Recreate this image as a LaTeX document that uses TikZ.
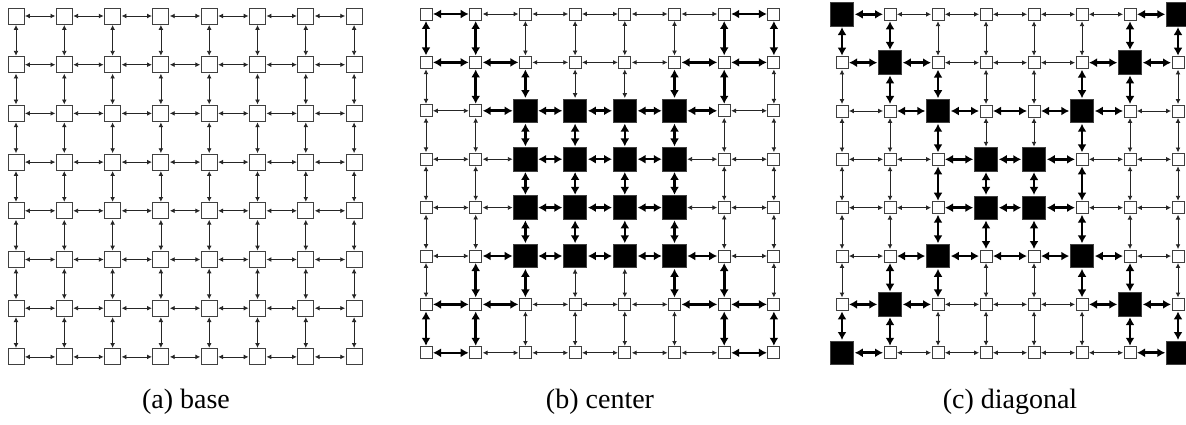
\documentclass[tikz,border=0pt]{standalone}
\usepackage{fontspec}
\setmainfont{Liberation Serif}
\usetikzlibrary{arrows.meta}
\tikzset{
  cell/.style={draw=black!75, line width=0.9pt, fill=white, minimum size=#1, inner sep=0pt, outer sep=1pt},
  bigcell/.style={draw=black!75, line width=0.9pt, fill=black, minimum size=23.5pt, inner sep=0pt, outer sep=1pt},
  thinlink/.style={line width=0.8pt, draw=black!85, {Latex[length=4.8pt,width=4.8pt]}-{Latex[length=4.8pt,width=4.8pt]}},
  thicklink/.style={line width=2.6pt, draw=black, {Latex[length=8pt,width=9pt]}-{Latex[length=8pt,width=9pt]}},
  caption/.style={font=\fontsize{28}{33}\selectfont, anchor=base, inner sep=0pt}
}
% membership of node (r,c) in the highlighted set of grid (b)
\newcommand\bmember[3]{%
  \pgfmathtruncatemacro\tmpmr{min(#1,9-#1)}%
  \pgfmathtruncatemacro\tmpmc{min(#2,9-#2)}%
  \pgfmathtruncatemacro#3{((\tmpmr>2)&&(\tmpmc>2))||((\tmpmr<3)&&(\tmpmc<3))||((\tmpmr+\tmpmc==5)&&(\tmpmr>1)&&(\tmpmc>1))}%
}
% big node test for grid (c)
\newcommand\cbig[3]{%
  \pgfmathtruncatemacro#3{(#1==#2)||(#1+#2==9)}%
}
\begin{document}
\begin{tikzpicture}[x=1pt,y=-1pt]
\useasboundingbox (0,0) rectangle (1186,425);
% ---------- grid (a)
\foreach \r in {1,...,8} {
  \foreach \c in {1,...,8} {
    \node[cell=16pt] (a-\r-\c) at ({16+(\c-1)*48.3},{16+(\r-1)*48.7}) {};
  }
}
\foreach \r in {1,...,8} {
  \foreach \c in {1,...,7} {
    \pgfmathtruncatemacro\cn{\c+1}
    \draw[thinlink] (a-\r-\c) -- (a-\r-\cn);
    \draw[thinlink] (a-\c-\r) -- (a-\cn-\r);
  }
}
% ---------- grid (b)
\foreach \r in {1,...,8} {
  \foreach \c in {1,...,8} {
    \pgfmathtruncatemacro\mr{min(\r,9-\r)}
    \pgfmathtruncatemacro\mc{min(\c,9-\c)}
    \pgfmathtruncatemacro\isbig{(\mr>2)&&(\mc>2)}
    \ifnum\isbig=1
      \node[bigcell] (b-\r-\c) at ({426+(\c-1)*49.7},{14+(\r-1)*48.4}) {};
    \else
      \node[cell=12pt] (b-\r-\c) at ({426+(\c-1)*49.7},{14+(\r-1)*48.4}) {};
    \fi
  }
}
\foreach \r in {1,...,8} {
  \foreach \c in {1,...,7} {
    \pgfmathtruncatemacro\cn{\c+1}
    \bmember{\r}{\c}{\sa}\bmember{\r}{\cn}{\sb}
    \ifnum\numexpr\sa*\sb\relax=1
      \draw[thicklink] (b-\r-\c) -- (b-\r-\cn);
    \else
      \draw[thinlink] (b-\r-\c) -- (b-\r-\cn);
    \fi
    \bmember{\c}{\r}{\sa}\bmember{\cn}{\r}{\sb}
    \ifnum\numexpr\sa*\sb\relax=1
      \draw[thicklink] (b-\c-\r) -- (b-\cn-\r);
    \else
      \draw[thinlink] (b-\c-\r) -- (b-\cn-\r);
    \fi
  }
}
% ---------- grid (c)
\foreach \r in {1,...,8} {
  \foreach \c in {1,...,8} {
    \cbig{\r}{\c}{\isbig}
    \ifnum\isbig=1
      \node[bigcell] (c-\r-\c) at ({842+(\c-1)*48},{14.3+(\r-1)*48.35}) {};
    \else
      \node[cell=12pt] (c-\r-\c) at ({842+(\c-1)*48},{14.3+(\r-1)*48.35}) {};
    \fi
  }
}
\foreach \r in {1,...,8} {
  \foreach \c in {1,...,7} {
    \pgfmathtruncatemacro\cn{\c+1}
    \pgfmathtruncatemacro\mr{min(\r,9-\r)}
    % horizontal link in row \r
    \cbig{\r}{\c}{\sa}\cbig{\r}{\cn}{\sb}
    \pgfmathtruncatemacro\thk{(\sa+\sb>0)||((\mr==3)&&(\c==4))}
    \ifnum\thk=1
      \draw[thicklink] (c-\r-\c) -- (c-\r-\cn);
    \else
      \draw[thinlink] (c-\r-\c) -- (c-\r-\cn);
    \fi
    % vertical link in column \r
    \cbig{\c}{\r}{\sa}\cbig{\cn}{\r}{\sb}
    \pgfmathtruncatemacro\thk{((\sa+\sb>0)||((\mr==3)&&(\c==4)))&&!((\c==3)&&((\r==4)||(\r==5)))}
    \ifnum\thk=1
      \draw[thicklink] (c-\c-\r) -- (c-\cn-\r);
    \else
      \draw[thinlink] (c-\c-\r) -- (c-\cn-\r);
    \fi
  }
}
% ---------- captions
\node[caption] (capa) at (186,408) {(a) base};
\node[caption] (capb) at (600,408) {(b) center};
\node[caption] (capc) at (1010,408) {(c) diagonal};
\end{tikzpicture}
\end{document}
